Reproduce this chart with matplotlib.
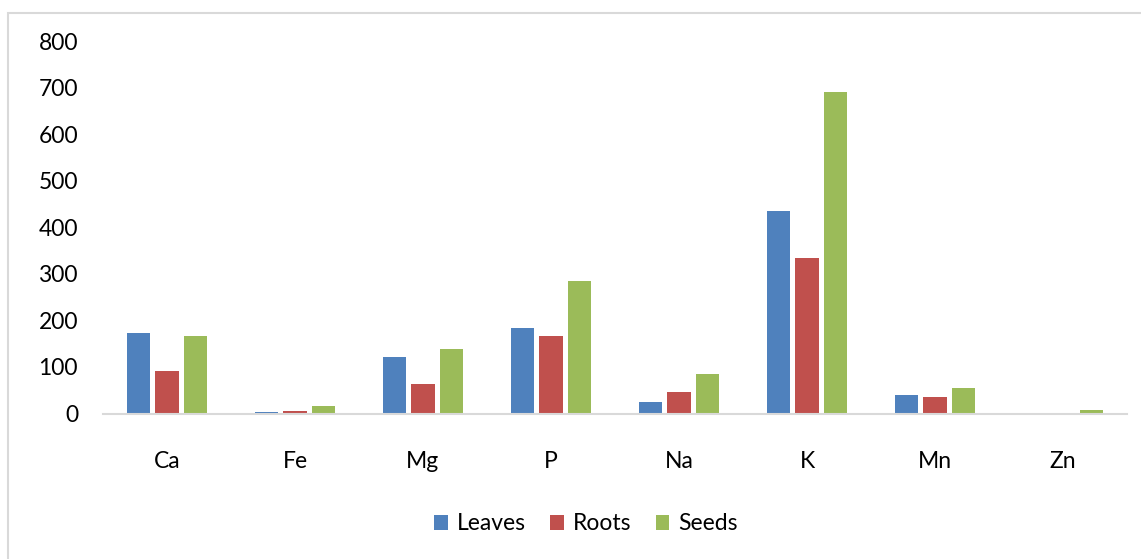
import numpy as np
import matplotlib.pyplot as plt
from matplotlib.patches import Rectangle

elements = ["Ca", "Fe", "Mg", "P", "Na", "K", "Mn", "Zn"]
leaves = [172, 3.5, 121, 183, 25, 435, 40, 0]
roots = [92, 4.5, 64, 167, 46, 335, 36, 0]
seeds = [166, 16, 139, 285, 85, 690, 54, 7]

plt.rcParams['font.family'] = ['Lato', 'DejaVu Sans']

W, H = 1141, 559
fig = plt.figure(figsize=(W / 100, H / 100), dpi=100)

# outer chart frame
fig.patches.append(Rectangle((8 / W, -0.01), 1.02, (H - 13) / H + 0.01,
                             transform=fig.transFigure, fill=False,
                             edgecolor='#D9D9D9', linewidth=1.5))

ax = fig.add_axes([103 / W, 1 - 413.5 / H, (1127 - 103) / W, (413.5 - 41) / H])

x = np.arange(len(elements))
bw = 0.18
step = 0.22
series = [("Leaves", leaves, "#4F81BD"),
          ("Roots", roots, "#C0504D"),
          ("Seeds", seeds, "#9BBB59")]
for i, (name, vals, col) in enumerate(series):
    ax.bar(x + (i - 1) * step, vals, bw, color=col, label=name)

ax.set_xlim(-0.5, len(elements) - 0.5)
ax.set_ylim(0, 800)
ax.set_yticks(range(0, 801, 100))
ax.set_xticks(x)
ax.set_xticklabels(elements)
ax.tick_params(axis='both', length=0, labelsize=16.5, colors='black')
ax.tick_params(axis='y', pad=18)
ax.tick_params(axis='x', pad=27)
for s in ['top', 'right', 'left']:
    ax.spines[s].set_visible(False)
ax.spines['bottom'].set_color('#D9D9D9')
ax.spines['bottom'].set_linewidth(1.5)

fig.legend(loc='center', bbox_to_anchor=(586 / W, 1 - 524 / H), ncol=3,
           frameon=False, fontsize=16.5, handlelength=0.6, handleheight=0.6,
           handletextpad=0.4, columnspacing=1.05)

fig.savefig("out.png", dpi=100)
